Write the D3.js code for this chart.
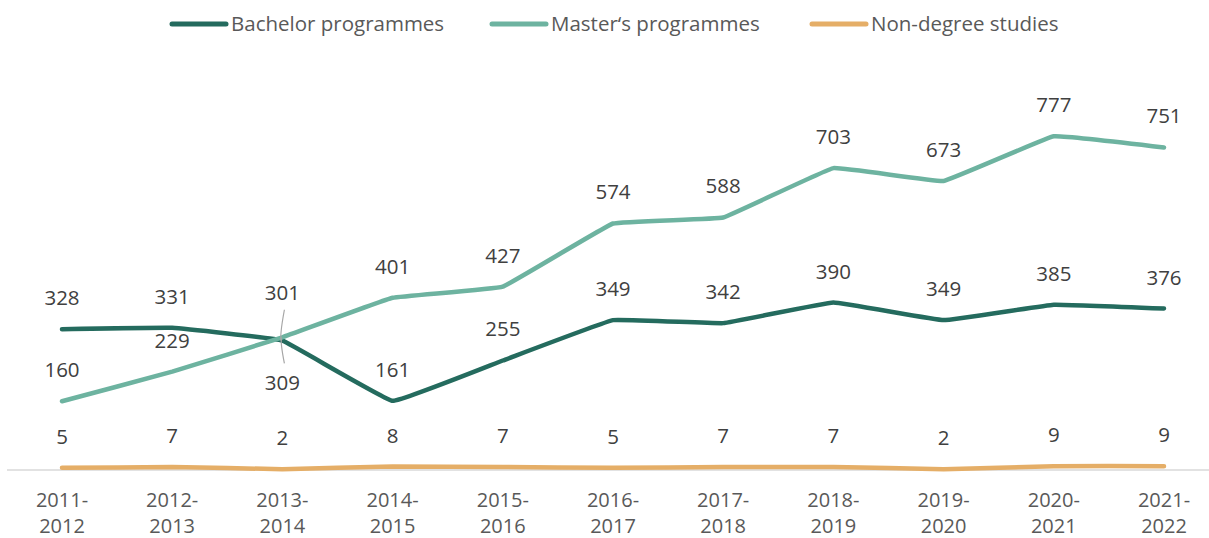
<!DOCTYPE html>
<html>
<head>
<meta charset="utf-8">
<script src="https://cdn.jsdelivr.net/npm/d3@7"></script>
<style>
  body { margin: 0; background: #fff; }
  svg { font-family: "Open Sans", Lato, sans-serif; }
</style>
</head>
<body>
<svg id="chart" width="1209" height="538"></svg>
<script>
// chart data
const years = ['2011-2012', '2012-2013', '2013-2014', '2014-2015', '2015-2016', '2016-2017',
               '2017-2018', '2018-2019', '2019-2020', '2020-2021', '2021-2022'];
const bachelor = [328, 331, 301, 161, 255, 349, 342, 390, 349, 385, 376];
const master = [160, 229, 309, 401, 427, 574, 588, 703, 673, 777, 751];
const nonDegree = [5, 7, 2, 8, 7, 5, 7, 7, 2, 9, 9];

const series = [
    { name: 'Bachelor programmes', values: bachelor, color: '#246b5e' },
    { name: 'Master\u2018s programmes', values: master, color: '#6db3a0' },
    { name: 'Non-degree studies', values: nonDegree, color: '#e5ae67' }
];

const svg = d3.select('#chart');

const x = d3.scalePoint().domain(years).range([62, 1164]);
const y = d3.scaleLinear().domain([0, 900]).range([470, 83.5]);

// baseline
svg.append('line')
    .attr('x1', 7).attr('x2', 1209)
    .attr('y1', y(0)).attr('y2', y(0))
    .attr('stroke', '#d9d9d9').attr('stroke-width', 1.5);

// category labels, split on the dash
const xAxis = svg.append('g');
years.forEach(function (yr) {
    const parts = yr.split('-');
    const t = xAxis.append('text')
        .attr('x', x(yr))
        .attr('text-anchor', 'middle')
        .attr('fill', '#595959')
        .attr('font-size', 20);
    t.append('tspan').attr('x', x(yr)).attr('y', 507).text(parts[0] + '-');
    t.append('tspan').attr('x', x(yr)).attr('y', 533).text(parts[1]);
});

// excel-style light smoothing
const line = d3.line()
    .x(function (d, i) { return x(years[i]); })
    .y(function (d) { return y(d); })
    .curve(d3.curveCardinal.tension(0.8));

series.forEach(function (s) {
    svg.append('path')
        .datum(s.values)
        .attr('d', line)
        .attr('fill', 'none')
        .attr('stroke', s.color)
        .attr('stroke-width', 4.5)
        .attr('stroke-linecap', 'round')
        .attr('stroke-linejoin', 'round');
});

// data labels
const labels = svg.append('g')
    .attr('font-size', 20.5)
    .attr('fill', '#404040')
    .attr('text-anchor', 'middle');

series.forEach(function (s, si) {
    s.values.forEach(function (v, i) {
        let ty = y(v) - 24;
        // crossing point in 2013-2014: labels pushed apart
        if (i === 2 && si === 0) ty = y(v) - 41;
        if (i === 2 && si === 1) ty = y(v) + 53;
        labels.append('text')
            .attr('x', x(years[i]))
            .attr('y', ty)
            .text(v);
    });
});

// leader lines at the crossing
const cx = x(years[2]);
svg.append('path')
    .attr('d', 'M' + (cx + 2) + ',' + (y(bachelor[2]) - 31) +
               ' Q' + (cx - 3) + ',' + (y(bachelor[2]) - 4) + ' ' + (cx - 1) + ',' + y(bachelor[2]))
    .attr('fill', 'none').attr('stroke', '#a6a6a6').attr('stroke-width', 1.2);
svg.append('path')
    .attr('d', 'M' + (cx - 1) + ',' + y(master[2]) +
               ' Q' + (cx - 2) + ',' + (y(master[2]) + 6) + ' ' + (cx + 2) + ',' + (y(master[2]) + 26))
    .attr('fill', 'none').attr('stroke', '#a6a6a6').attr('stroke-width', 1.2);

// legend
const legendX = [172, 492, 812];
const legend = svg.append('g');
series.forEach(function (s, i) {
    legend.append('line')
        .attr('x1', legendX[i]).attr('x2', legendX[i] + 54)
        .attr('y1', 24).attr('y2', 24)
        .attr('stroke', s.color).attr('stroke-width', 5)
        .attr('stroke-linecap', 'round');
    legend.append('text')
        .attr('x', legendX[i] + 59)
        .attr('y', 31)
        .attr('font-size', 20.5)
        .attr('fill', '#595959')
        .text(s.name);
});
</script>
</body>
</html>
